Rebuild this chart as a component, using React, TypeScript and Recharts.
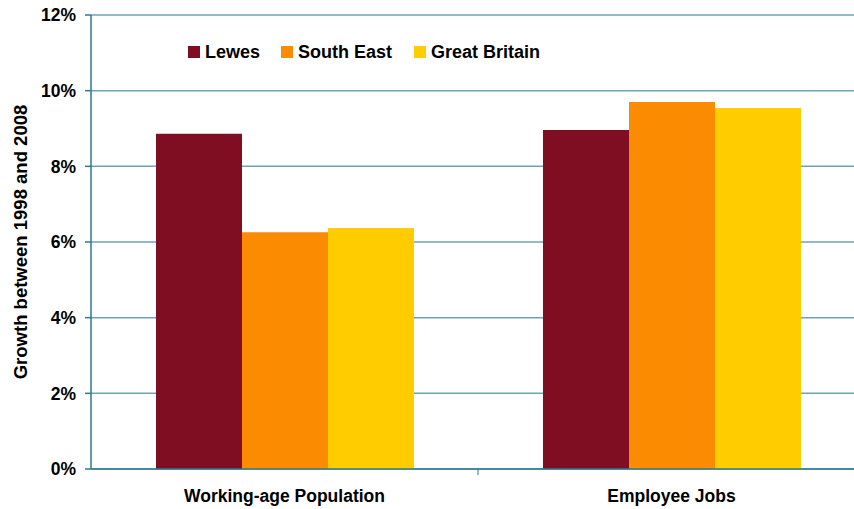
import { Bar, BarChart, CartesianGrid, XAxis, YAxis } from "recharts";

const categories = ["Working-age Population", "Employee Jobs"];
const lewes = [8.86, 8.96];
const southEast = [6.26, 9.7];
const greatBritain = [6.37, 9.54];
const yTicks = [0, 2, 4, 6, 8, 10, 12];

const SERIES = [
  { key: "lewes", name: "Lewes", color: "#800e22" },
  { key: "southEast", name: "South East", color: "#fb8b00" },
  { key: "greatBritain", name: "Great Britain", color: "#ffcc00" },
];

const data = categories.map((c, i) => ({
  category: c,
  lewes: lewes[i],
  southEast: southEast[i],
  greatBritain: greatBritain[i],
}));

const FONT = "'Liberation Sans', Arial, sans-serif";
const AXIS = "#2e7a8c";
const GRID = "#6fa3b2";

function CategoryTick(props: any) {
  const { x, y, payload, index } = props;
  // half of a category band, used for the separator tick between groups
  const half = 387 / 2;
  return (
    <g>
      {index === 0 && (
        <line x1={x + half} y1={y - 8} x2={x + half} y2={y - 2} stroke={AXIS} strokeWidth={1} />
      )}
      <text
        x={x}
        y={y + 25}
        textAnchor="middle"
        fontFamily={FONT}
        fontWeight="bold"
        fontSize={17.5}
        fill="#000"
      >
        {payload.value}
      </text>
    </g>
  );
}

function LegendBox() {
  return (
    <div
      style={{
        position: "absolute",
        top: 41,
        left: 188,
        display: "flex",
        fontFamily: FONT,
        fontWeight: "bold",
        fontSize: 18,
        lineHeight: "22px",
      }}
    >
      {SERIES.map((s, i) => (
        <div key={s.key} style={{ display: "flex", alignItems: "center", marginRight: i === 0 ? 21 : 22 }}>
          <span style={{ width: 12, height: 12, background: s.color, display: "inline-block", marginRight: 5 }} />
          <span>{s.name}</span>
        </div>
      ))}
    </div>
  );
}

export default function App() {
  return (
    <div
      style={{
        position: "absolute",
        left: 0,
        top: 0,
        width: 854,
        height: 509,
        overflow: "hidden",
        background: "#fff",
      }}
    >
      <BarChart
        width={870}
        height={509}
        data={data}
        margin={{ top: 15, right: 5, left: 0, bottom: 0 }}
        barCategoryGap={65}
        barGap={0}
      >
        <CartesianGrid vertical={false} stroke={GRID} strokeWidth={1.5} />
        <XAxis
          dataKey="category"
          height={40}
          axisLine={{ stroke: AXIS, strokeWidth: 1.5 }}
          tickLine={false}
          tick={<CategoryTick />}
          interval={0}
        />
        <YAxis
          width={91}
          domain={[0, 12]}
          ticks={yTicks}
          interval={0}
          tickFormatter={(v) => `${v}%`}
          axisLine={{ stroke: AXIS, strokeWidth: 1.5 }}
          tickLine={{ stroke: AXIS, strokeWidth: 1.5 }}
          tickSize={6}
          tickMargin={9}
          tick={{ fontFamily: FONT, fontWeight: "bold", fontSize: 17.5, fill: "#000" }}
          label={{
            content: () => (
              <text
                x={20}
                y={242}
                transform="rotate(-90 20 242)"
                textAnchor="middle"
                dominantBaseline="central"
                fontFamily={FONT}
                fontWeight="bold"
                fontSize={18.5}
                fill="#000"
              >
                Growth between 1998 and 2008
              </text>
            ),
          }}
        />
        {SERIES.map((s) => (
          <Bar key={s.key} dataKey={s.key} name={s.name} fill={s.color} isAnimationActive={false} />
        ))}
      </BarChart>
      <LegendBox />
    </div>
  );
}
